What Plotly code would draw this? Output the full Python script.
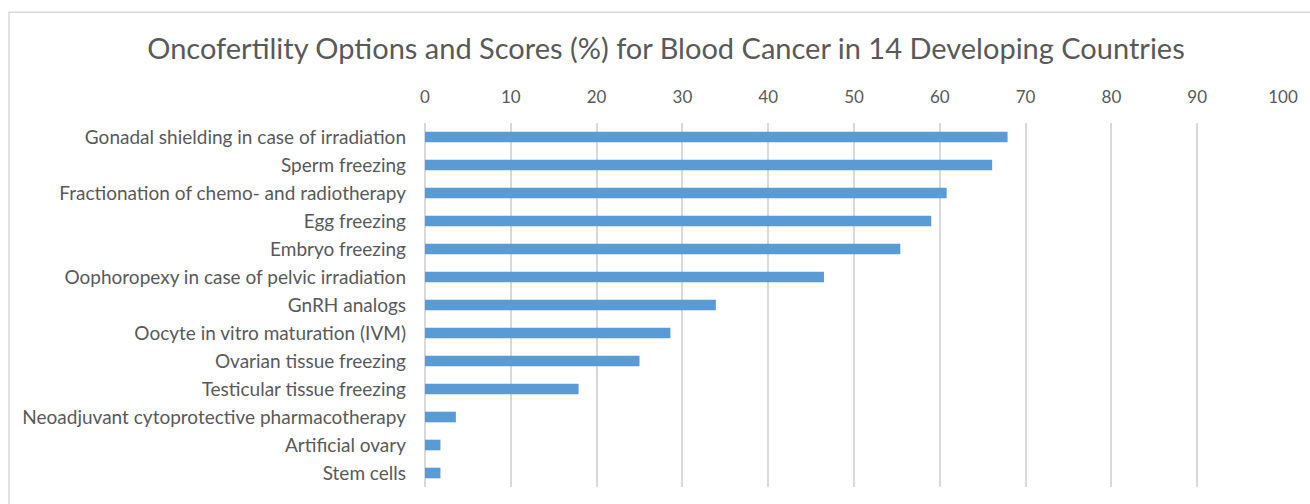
import plotly.graph_objects as go

categories = [
    "Gonadal shielding in case of irradiation",
    "Sperm freezing",
    "Fractionation of chemo- and radiotherapy",
    "Egg freezing",
    "Embryo freezing",
    "Oophoropexy in case of pelvic irradiation",
    "GnRH analogs",
    "Oocyte in vitro maturation (IVM)",
    "Ovarian tissue freezing",
    "Testicular tissue freezing",
    "Neoadjuvant cytoprotective pharmacotherapy",
    "Artificial ovary",
    "Stem cells",
]
scores = [67.9, 66.1, 60.8, 59.0, 55.4, 46.5, 33.9, 28.6, 25.0, 17.9, 3.6, 1.8, 1.8]
x_ticks = [0, 10, 20, 30, 40, 50, 60, 70, 80, 90, 100]

W, H = 1310, 504
L, R, T, B = 425, 1283, 122.7, 486.7
pw, ph = R - L, B - T

FONT = "Lato"
TXT = "#595959"

fig = go.Figure(go.Bar(
    x=scores, y=categories, orientation="h",
    marker=dict(color="#5B9BD5", line=dict(width=0)),
    width=0.38,
))

def px_x(p):
    return (p - L) / pw

def px_y(p):
    return (B - p) / ph

fig.update_layout(
    width=W, height=H,
    margin=dict(l=L, r=W - R, t=T, b=H - B, autoexpand=False),
    paper_bgcolor="white", plot_bgcolor="white",
    showlegend=False,
    font=dict(family=FONT, color=TXT),
    title=dict(
        text="Oncofertility Options and Scores (%) for Blood Cancer in 14 Developing Countries",
        x=px_x(666), xref="paper", xanchor="center",
        y=1 - 49 / H, yref="container", yanchor="middle",
        font=dict(family=FONT, size=29, color=TXT),
    ),
    xaxis=dict(
        side="top", range=[0, 100], tickvals=x_ticks,
        showgrid=True, gridcolor="#D9D9D9", gridwidth=1.5,
        zeroline=True, zerolinecolor="#D9D9D9", zerolinewidth=1.5,
        showline=False, ticks="",
        tickfont=dict(family=FONT, size=17, color=TXT),
        ticklabelstandoff=16,
        fixedrange=True,
    ),
    yaxis=dict(
        categoryorder="array", categoryarray=categories,
        autorange=False, range=[12.5, -0.5],
        showgrid=False, zeroline=False, showline=False, ticks="",
        tickfont=dict(family=FONT, size=19, color=TXT),
        ticklabelstandoff=18,
        fixedrange=True,
    ),
    shapes=[dict(
        type="rect", xref="paper", yref="paper",
        x0=px_x(9), x1=px_x(1313), y0=px_y(12), y1=px_y(515),
        line=dict(color="#D9D9D9", width=1.5), fillcolor="rgba(0,0,0,0)",
        layer="below",
    )],
)

fig.write_html("out.html")
